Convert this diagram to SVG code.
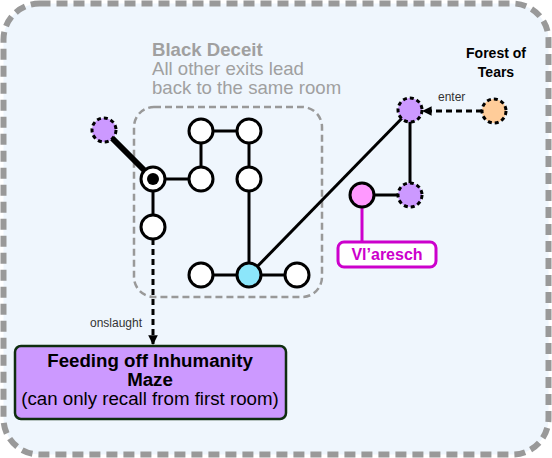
<svg xmlns="http://www.w3.org/2000/svg" width="552" height="458" viewBox="0 0 552 458">
<style>
.room{fill:#fff;stroke:#000;stroke-width:3}
.exit{fill:#cc99ff;stroke:#000;stroke-width:3;stroke-dasharray:4 3}
.edge{stroke:#000;stroke-width:3;fill:none}
.dash{stroke:#000;stroke-width:3;fill:none;stroke-dasharray:6 4}
.lbl{font-family:"Liberation Sans",Arial,sans-serif;font-size:12px;fill:#333}
.grey{font-family:"Liberation Sans",Arial,sans-serif;font-size:18.6px;fill:#a0a0a0}
.big{font-family:"Liberation Sans",Arial,sans-serif;font-size:18.7px;fill:#000;text-anchor:middle}
</style>
<defs>
<marker id="arr" viewBox="0 0 10 10" refX="9" refY="5" markerWidth="3.2" markerHeight="3.2" orient="auto" markerUnits="strokeWidth">
<path d="M0,0 L10,5 L0,10 Z" fill="#000"/>
</marker>
</defs>
<rect id="frame" x="3.5" y="3.5" width="545" height="451" rx="36" fill="#eff6fd" stroke="#999" stroke-width="6" stroke-dasharray="11 6"/>
<g id="black-deceit">
<rect x="134" y="107" width="188" height="190" rx="20" fill="none" stroke="#999" stroke-width="2.5" stroke-dasharray="7 4"/>
<text class="grey" x="152" y="56" font-weight="bold">Black Deceit</text>
<text class="grey" x="152" y="75">All other exits lead</text>
<text class="grey" x="152" y="94">back to the same room</text>
</g>
<g id="connectors">
<line x1="104" y1="130" x2="153" y2="179" style="stroke:#000;stroke-width:6"/>
<line class="edge" x1="153" y1="179" x2="201" y2="179"/>
<line class="edge" x1="153" y1="179" x2="153" y2="227"/>
<line class="edge" x1="201" y1="179" x2="201" y2="131"/>
<line class="edge" x1="201" y1="131" x2="249" y2="131"/>
<line class="edge" x1="249" y1="131" x2="249" y2="275"/>
<line class="edge" x1="201" y1="275" x2="297" y2="275"/>
<line class="edge" x1="249" y1="275" x2="410" y2="110"/>
<line class="edge" x1="410" y1="110" x2="410" y2="195"/>
<line class="edge" x1="362" y1="195" x2="410" y2="195"/>
<line x1="362" y1="207" x2="362" y2="242" stroke="#cc00cc" stroke-width="3"/>
<line class="dash" x1="482" y1="111" x2="423" y2="111" marker-end="url(#arr)"/>
<text class="lbl" x="438" y="101">enter</text>
<line class="dash" x1="153" y1="239" x2="153" y2="344" marker-end="url(#arr)"/>
<text class="lbl" x="90" y="327">onslaught</text>
</g>
<g id="n-exit-west"><circle class="exit" cx="104" cy="130" r="12"/></g>
<g id="n-start"><circle class="room" cx="153" cy="179" r="12"/><circle cx="153" cy="179" r="6" fill="#000"/></g>
<g id="n-r1"><circle class="room" cx="201" cy="179" r="12"/></g>
<g id="n-r2"><circle class="room" cx="201" cy="131" r="12"/></g>
<g id="n-r3"><circle class="room" cx="249" cy="131" r="12"/></g>
<g id="n-r4"><circle class="room" cx="249" cy="179" r="12"/></g>
<g id="n-r5"><circle class="room" cx="153" cy="227" r="12"/></g>
<g id="n-r6"><circle class="room" cx="201" cy="275" r="12"/></g>
<g id="n-cyan"><circle class="room" cx="249" cy="275" r="12" style="fill:#8ce6fa"/></g>
<g id="n-r7"><circle class="room" cx="297" cy="275" r="12"/></g>
<g id="n-exit-ne"><circle class="exit" cx="410" cy="110" r="12"/></g>
<g id="n-exit-e"><circle class="exit" cx="410" cy="195" r="12"/></g>
<g id="n-pink"><circle class="room" cx="362" cy="195" r="12" style="fill:#ff99ff"/></g>
<g id="n-forest"><circle class="exit" cx="494" cy="111" r="12" style="fill:#ffcc99"/>
<text x="496" y="58" font-family="Liberation Sans, Arial, sans-serif" font-size="14" font-weight="bold" text-anchor="middle">Forest of</text>
<text x="496" y="77" font-family="Liberation Sans, Arial, sans-serif" font-size="14" font-weight="bold" text-anchor="middle">Tears</text>
</g>
<g id="n-vlaresch">
<rect x="338" y="242" width="98" height="25" rx="6" fill="#fff" stroke="#cc00cc" stroke-width="3"/>
<text x="387" y="260" font-family="Liberation Sans, Arial, sans-serif" font-size="16" font-weight="bold" fill="#cc00cc" text-anchor="middle">Vl’aresch</text>
</g>
<g id="n-maze">
<rect x="15" y="346" width="271" height="73" rx="6" fill="#cc99ff" stroke="#0f2e0f" stroke-width="2.5"/>
<text class="big" x="150" y="367" font-weight="bold">Feeding off Inhumanity</text>
<text class="big" x="150" y="386" font-weight="bold">Maze</text>
<text class="big" x="150" y="405">(can only recall from first room)</text>
</g>
</svg>
